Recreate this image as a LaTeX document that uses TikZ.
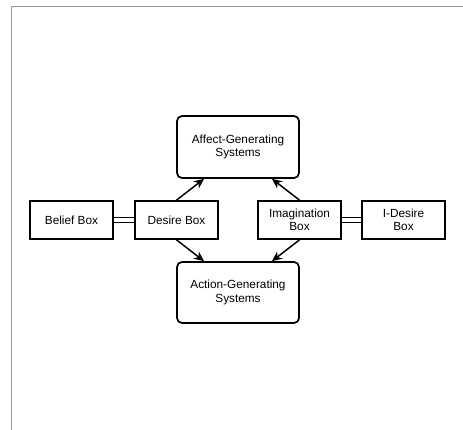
\documentclass[tikz,border=0pt]{standalone}
\usepackage{fontspec}
\setmainfont{Liberation Sans}
\usetikzlibrary{arrows.meta}

\begin{document}
\begin{tikzpicture}[x=1pt,y=-1pt,font=\fontsize{11.8}{13.3}\selectfont]
   \useasboundingbox (0,0) rectangle (463,430);
   \draw[gray!80,line width=1pt] (11,430) -- (11,7) -- (463,7);
   \begin{scope}[every node/.style={draw=black,line width=1.7pt,align=center,inner sep=0pt}]
    \node[minimum width=122pt,minimum height=62pt,rounded corners=5pt] (affect) at (238,147) {Affect-Generating\\Systems};
    \node[minimum width=122pt,minimum height=61pt,rounded corners=5pt] (action) at (238,292.5) {Action-Generating\\Systems};
    \node[minimum width=83pt,minimum height=38pt] (belief) at (71.5,220) {Belief Box};
    \node[minimum width=83pt,minimum height=38pt] (desire) at (176.5,220) {Desire Box};
    \node[minimum width=83pt,minimum height=38pt] (imag) at (299.5,220) {Imagination\\Box};
    \node[minimum width=83pt,minimum height=38pt] (idesire) at (403.5,220) {I-Desire\\Box};
   \end{scope}
   \begin{scope}[every path/.style={draw=black,line width=1.5pt}]
    \draw[double,double distance=3.6pt] (belief) -- (desire);
    \draw[double,double distance=3.6pt] (imag) -- (idesire);
    \draw[-{Stealth[length=10pt,width=9pt]}] (desire.north) -- ([xshift=-34pt]affect.south);
    \draw[-{Stealth[length=10pt,width=9pt]}] (imag.north) -- ([xshift=34pt]affect.south);
    \draw[-{Stealth[length=10pt,width=9pt]}] (desire.south) -- ([xshift=-34pt]action.north);
    \draw[-{Stealth[length=10pt,width=9pt]}] (imag.south) -- ([xshift=34pt]action.north);
   \end{scope}
\end{tikzpicture}
\end{document}
